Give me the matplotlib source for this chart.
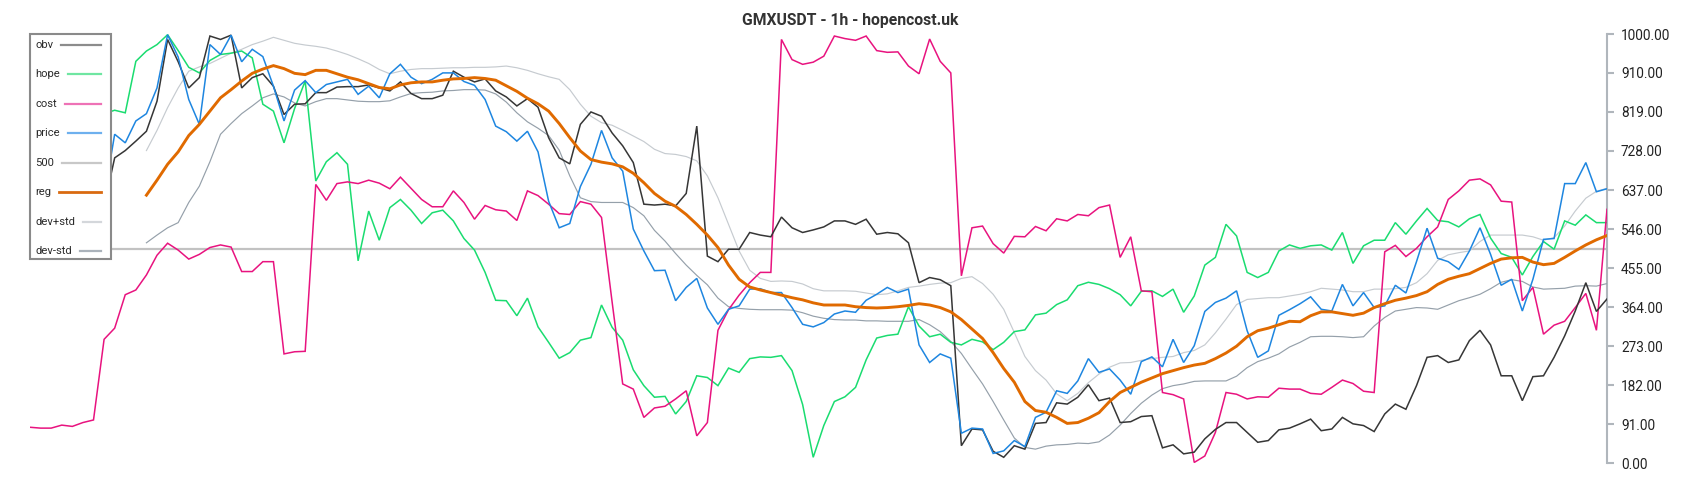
import numpy as np
import matplotlib
matplotlib.use("Agg")
import matplotlib.pyplot as plt
from matplotlib.lines import Line2D
from matplotlib.patches import Rectangle

plt.rcParams['font.family'] = ['Roboto', 'DejaVu Sans']

title = "GMXUSDT - 1h - hopencost.uk"

obv = [600, 610, 620, 640, 630, 650, 660, 600,
       712, 729, 751, 774, 844, 988, 936, 875, 899, 996, 988, 998, 875, 899, 908, 879, 813, 837, 838, 864, 864, 877,
       878, 878, 882, 875, 868, 889, 862, 850, 850, 858, 914, 900, 889, 896, 868, 854, 833, 850, 830, 759, 712, 698, 790, 819, 809, 770, 740, 701, 604, 602,
       604, 600, 629, 786, 483, 470, 499, 499, 538, 532, 528, 574, 549, 538, 544, 551, 565, 565, 557, 569, 534, 538, 535, 514, 421, 433, 428, 414, 41, 80,
       78, 28, 14, 41, 33, 93, 95, 141, 138, 154, 183, 146, 152, 95, 97, 109, 111, 36, 43, 22, 26, 57, 79, 95, 95, 72, 49, 53, 78, 82,
       92, 103, 76, 80, 107, 92, 88, 74, 115, 138, 126, 181, 247, 251, 235, 241, 286, 310, 276, 204, 204, 146, 202, 204, 247, 297, 355, 421, 354, 383]

hope = [800, 805, 810, 808, 812, 815, 818, 815,
        823, 817, 937, 961, 976, 999, 962, 923, 910, 939, 953, 956, 961, 945, 837, 821, 747, 827, 891, 658, 703, 724,
        697, 472, 588, 520, 596, 615, 590, 559, 584, 590, 565, 524, 497, 445, 380, 379, 344, 385, 318, 282, 245, 258, 287, 293, 369, 317, 287, 218, 181, 154,
        156, 115, 144, 204, 200, 181, 222, 212, 244, 248, 247, 251, 216, 137, 14, 88, 144, 155, 177, 241, 292, 298, 301, 365, 320, 295, 301, 282, 276, 289,
        283, 265, 282, 307, 311, 346, 350, 370, 381, 414, 422, 417, 407, 393, 367, 401, 402, 389, 406, 352, 390, 462, 480, 557, 530, 445, 433, 445, 495, 509,
        501, 507, 509, 497, 538, 466, 507, 520, 520, 561, 534, 565, 594, 566, 563, 551, 570, 580, 525, 489, 480, 439, 482, 517, 499, 565, 555, 579, 561, 561]

cost = [84, 82, 82, 89, 86, 95, 101, 289, 315, 393, 404, 439, 485, 513, 497, 476, 487, 503, 509, 504, 447, 447, 470, 470, 255, 260, 261, 650, 613, 652,
        656, 652, 660, 653, 640, 667, 641, 615, 598, 598, 635, 608, 569, 601, 591, 588, 566, 635, 624, 604, 582, 580, 610, 604, 573, 376, 185, 173, 107, 129,
        133, 150, 169, 64, 95, 310, 358, 392, 421, 445, 445, 988, 941, 930, 935, 949, 996, 990, 986, 996, 962, 958, 959, 926, 908, 989, 937, 910, 437, 549,
        553, 512, 490, 529, 528, 552, 542, 570, 565, 580, 577, 596, 602, 480, 528, 402, 400, 165, 160, 150, 2, 17, 72, 165, 161, 150, 155, 154, 175, 173,
        173, 163, 161, 177, 194, 186, 168, 165, 493, 508, 482, 501, 528, 551, 615, 635, 660, 663, 649, 611, 609, 379, 410, 301, 322, 331, 363, 396, 310, 592]

price = [700, 690, 710, 720, 700, 720, 730, 620,
         767, 747, 798, 815, 875, 999, 947, 848, 790, 976, 953, 998, 936, 965, 948, 879, 798, 870, 892, 864, 883, 889,
         895, 860, 879, 852, 908, 930, 900, 885, 895, 910, 910, 890, 881, 848, 786, 773, 751, 774, 726, 611, 549, 559, 645, 697, 776, 712, 681, 546, 495, 449,
         450, 379, 410, 431, 362, 324, 359, 367, 406, 407, 398, 398, 363, 324, 318, 328, 348, 355, 352, 380, 394, 410, 398, 406, 276, 235, 255, 245, 70, 82,
         80, 23, 29, 53, 39, 107, 119, 169, 163, 192, 244, 212, 220, 194, 161, 237, 248, 225, 289, 235, 274, 354, 375, 385, 402, 309, 247, 262, 345, 358,
         372, 388, 359, 355, 417, 367, 398, 363, 367, 415, 397, 470, 548, 478, 470, 452, 495, 549, 487, 415, 429, 355, 429, 522, 524, 652, 652, 701, 633, 640]

level = 500

reg = [None] * 11 + [
       625, 660, 697, 726, 764, 790, 821, 852, 871, 891, 909, 919, 927, 920, 909, 906, 916, 916, 908,
       900, 894, 885, 876, 873, 882, 887, 889, 889, 893, 896, 897, 899, 897, 893, 880, 867, 851, 838, 821, 792, 759, 728, 708, 702, 698, 691, 676, 654, 629,
       611, 599, 580, 557, 532, 503, 462, 429, 411, 404, 398, 392, 386, 381, 374, 369, 369, 369, 365, 363, 362, 363, 365, 368, 372, 369, 363, 353, 335, 313,
       291, 258, 221, 189, 144, 123, 119, 107, 93, 95, 105, 118, 144, 165, 177, 189, 199, 209, 216, 223, 229, 233, 244, 257, 273, 295, 309, 315, 323, 331,
       330, 344, 353, 353, 349, 345, 350, 363, 372, 380, 385, 391, 400, 417, 429, 436, 442, 454, 466, 476, 479, 480, 469, 463, 466, 480, 495, 509, 521, 531]

dev_plus = [None] * 11 + [
       729, 776, 829, 875, 914, 924, 932, 944, 956, 965, 976, 984, 993, 986, 979, 975, 972, 968, 961,
       953, 943, 932, 918, 908, 914, 918, 920, 920, 921, 922, 922, 923, 923, 924, 926, 922, 916, 908, 901, 895, 871, 837, 809, 794, 788, 776, 763, 750, 732,
       722, 720, 715, 705, 670, 619, 557, 495, 450, 431, 424, 425, 424, 418, 407, 402, 402, 402, 401, 397, 393, 395, 402, 410, 413, 417, 420, 421, 431, 435,
       419, 394, 359, 305, 249, 216, 194, 162, 146, 163, 188, 208, 224, 234, 235, 240, 244, 247, 249, 258, 263, 276, 304, 336, 370, 382, 384, 386, 386, 390,
       394, 400, 408, 406, 404, 400, 400, 406, 406, 407, 410, 421, 442, 473, 486, 491, 495, 517, 532, 532, 532, 532, 528, 520, 526, 553, 588, 618, 634, 641]

dev_minus = [None] * 11 + [
       514, 532, 549, 561, 608, 646, 703, 767, 792, 815, 833, 852, 861, 854, 840, 833, 843, 850, 850,
       847, 844, 843, 843, 845, 854, 862, 864, 865, 868, 869, 871, 871, 870, 861, 842, 817, 796, 781, 764, 730, 670, 619, 610, 608, 608, 608, 596, 577, 543,
       518, 489, 462, 438, 416, 385, 365, 361, 359, 358, 358, 358, 357, 351, 343, 338, 335, 334, 334, 332, 332, 331, 331, 331, 335, 323, 307, 284, 256, 220,
       185, 144, 101, 59, 37, 33, 40, 43, 44, 47, 46, 50, 66, 89, 116, 140, 159, 174, 181, 185, 191, 192, 192, 192, 203, 223, 237, 245, 255, 271,
       282, 295, 296, 296, 295, 293, 295, 320, 340, 355, 359, 363, 362, 359, 369, 379, 386, 394, 407, 422, 428, 424, 411, 406, 407, 408, 413, 414, 413, 419]

ytick_values = [0, 91, 182, 273, 364, 455, 546, 637, 728, 819, 910, 1000]

N = len(cost)
x = np.arange(N)

W, H = 1700, 500
fig = plt.figure(figsize=(17, 5), dpi=100)
ax = fig.add_axes([30 / W, 36.7 / H, 1577 / W, 429 / H])

series = [
    ("obv", obv, "#363636", 1.1, "#8c8c8c", 1.6),
    ("hope", hope, "#1adc70", 1.1, "#6fe6a2", 1.6),
    ("cost", cost, "#e8137f", 1.1, "#ee72b6", 1.6),
    ("price", price, "#1e86e0", 1.1, "#6eb0ee", 1.6),
    ("500", [level] * N, "#c2c2c2", 1.6, "#c8c8c8", 1.6),
    ("reg", reg, "#e06a00", 2.1, "#d96a10", 2.0),
    ("dev+std", dev_plus, "#c6cbd0", 0.85, "#d4d7db", 1.6),
    ("dev-std", dev_minus, "#95a0aa", 0.85, "#aab2ba", 1.6),
]

order = ["500", "dev+std", "dev-std", "hope", "cost", "obv", "price", "reg"]
for name, vals, col, lw, _, _ in series:
    y = np.array(vals, dtype=float)
    ax.plot(x, y, color=col, lw=lw, zorder=2 + order.index(name), solid_joinstyle='miter')

ax.set_xlim(0, N - 1)
ax.set_ylim(0, 1000)
ax.set_yticks(ytick_values)
ax.set_yticklabels([f"{v:.2f}" for v in ytick_values])
ax.yaxis.tick_right()
ax.tick_params(axis='y', colors='#b0b6bc', length=5, width=1.5, pad=5,
               labelsize=9.8, labelcolor='#222222')
ax.set_xticks([])
for s in ("left", "top", "bottom"):
    ax.spines[s].set_visible(False)
ax.spines["right"].set_color("#b0b6bc")
ax.spines["right"].set_linewidth(1.5)
ax.patch.set_visible(False)

fig.text(850 / W, 1 - 20 / H, title, ha='center', va='center', fontsize=11.3,
         fontweight='bold', color='#333333')

# legend (manual, opaque box with label then line)
lx0, ly0, lx1, ly1 = 30, 34, 111, 259
fig.patches.append(Rectangle((lx0 / W, 1 - ly1 / H), (lx1 - lx0) / W, (ly1 - ly0) / H,
                             transform=fig.transFigure, facecolor='white',
                             edgecolor='#8a8a8a', lw=1.5, zorder=20))
row_y = np.linspace(45, 251, len(series))
fig.canvas.draw()
renderer = fig.canvas.get_renderer()
for (name, _, _, _, lcol, llw), ry in zip(series, row_y):
    t = fig.text(35 / W, 1 - ry / H, name, ha='left', va='center', fontsize=8.1,
                 color='#2a2a2a', zorder=21)
    bb = t.get_window_extent(renderer)
    xs = bb.x1 + 8
    fig.lines.append(Line2D([xs / W, 100.7 / W], [1 - ry / H, 1 - ry / H],
                            transform=fig.transFigure, color=lcol, lw=llw, zorder=21))

fig.savefig("out.png", dpi=100)
